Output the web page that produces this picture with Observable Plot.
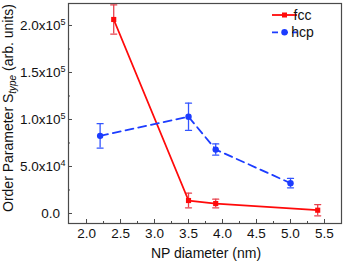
<!DOCTYPE html>
<html><head><meta charset="utf-8">
<script src="https://cdn.jsdelivr.net/npm/d3@7"></script>
<script src="https://cdn.jsdelivr.net/npm/@observablehq/plot@0.6"></script>
<style>body{margin:0;background:#fff} svg{font-family:"Liberation Sans",Arial,sans-serif}</style>
</head><body><div id="chart"></div>
<script>
const fccDiameter = [2.4, 3.5, 3.9, 5.4];
const fccValue = [206400, 13800, 10600, 3500];
const fccError = [15500, 7800, 4600, 6000];
const hcpDiameter = [2.2, 3.5, 3.9, 5.0];
const hcpValue = [82600, 102900, 68000, 32300];
const hcpError = [13000, 14500, 6000, 5000];
const xTicks = [2.0, 2.5, 3.0, 3.5, 4.0, 4.5, 5.0, 5.5];
const xMinorTicks = [2.25, 2.75, 3.25, 3.75, 4.25, 4.75, 5.25];
const yTicks = [0, 50000, 100000, 150000, 200000];
const yTickMantissa = ["0.0", "5.0x10", "1.0x10", "1.5x10", "2.0x10"];
const yTickExponent = ["", "4", "5", "5", "5"];
const yMinorTicks = [25000, 75000, 125000, 175000];
const seriesNames = ["fcc", "hcp"];
const xLabel = "NP diameter (nm)";

const W = 346, H = 263, mL = 68, mR = 5, mT = 3, mB = 40;
const pw = W - mL - mR, ph = H - mT - mB;
const red = "#ff0a0a", redErr = "#e8404c", blue = "#1c3cff", blueErr = "#3355ff", frameCol = "#4a4a4a";

const fcc = fccDiameter.map((x, i) => ({x, y: fccValue[i], lo: fccValue[i] - fccError[i], hi: fccValue[i] + fccError[i]}));
const hcp = hcpDiameter.map((x, i) => ({x, y: hcpValue[i], lo: hcpValue[i] - hcpError[i], hi: hcpValue[i] + hcpError[i]}));

const capShape = {draw(ctx, l) { ctx.moveTo(0, 0); ctx.lineTo(0, -l); }};
const caps = (data, key, stroke) => Plot.vector(data, {x: "x", y: key, length: 6, rotate: 90, anchor: "middle", shape: capShape, stroke, strokeWidth: 1.3});

const chart = Plot.plot({
  width: W, height: H,
  marginLeft: mL, marginRight: mR, marginTop: mT, marginBottom: mB,
  style: {fontSize: "13.5px", fontFamily: "'Liberation Sans', Arial, sans-serif", color: "#111", background: "#fff"},
  x: {domain: [1.735, 5.75]},
  y: {domain: [-10640, 223400]},
  marks: [
    Plot.tickY(yTicks, {y: d => d, insetRight: pw - 4, stroke: frameCol}),
    Plot.tickY(yMinorTicks, {y: d => d, insetRight: pw - 2, stroke: frameCol}),
    Plot.tickX(xTicks, {x: d => d, insetTop: ph - 4, stroke: frameCol}),
    Plot.tickX(xMinorTicks, {x: d => d, insetTop: ph - 2, stroke: frameCol}),
    Plot.axisY(yTicks, {tickSize: 0, tickPadding: 8.5, tickFormat: d => yTickMantissa[yTicks.indexOf(d)], label: null, fill: "#111"}),
    Plot.axisX(xTicks, {tickSize: 0, tickPadding: 5, tickFormat: d3.format(".1f"), label: null, fill: "#111"}),
    Plot.ruleX(fcc, {x: "x", y1: "lo", y2: "hi", stroke: redErr, strokeWidth: 1.3}),
    caps(fcc, "lo", redErr), caps(fcc, "hi", redErr),
    Plot.ruleX(hcp, {x: "x", y1: "lo", y2: "hi", stroke: blueErr, strokeWidth: 1.3}),
    caps(hcp, "lo", blueErr), caps(hcp, "hi", blueErr),
    Plot.line(fcc, {x: "x", y: "y", stroke: red, strokeWidth: 1.8}),
    Plot.line(hcp, {x: "x", y: "y", stroke: blue, strokeWidth: 1.8, strokeDasharray: "8,5"}),
    Plot.dot(fcc, {x: "x", y: "y", symbol: "square", r: 2.9, fill: red}),
    Plot.dot(hcp, {x: "x", y: "y", symbol: "circle", r: 3.2, fill: blue}),
    Plot.frame({stroke: frameCol, strokeWidth: 1.2})
  ]
});
document.getElementById("chart").appendChild(chart);

const svg = d3.select(chart);
// superscript exponents on y tick labels (mantissas stay right-aligned)
svg.selectAll('g[aria-label="y-axis tick label"] text').each(function() {
  const t = d3.select(this);
  const i = yTickMantissa.indexOf(t.text());
  if (i >= 0 && yTickExponent[i]) {
    t.text(yTickMantissa[i]).attr("dx", 5.5);
    t.append("tspan").attr("font-size", 9).attr("dy", -5).text(yTickExponent[i]);
  }
});
// y-axis title with italic subscript
const yt = svg.append("text")
  .attr("transform", "translate(13,108) rotate(-90)")
  .attr("text-anchor", "middle").attr("font-size", 14).attr("fill", "#111");
yt.append("tspan").text("Order Parameter S");
yt.append("tspan").attr("font-style", "italic").attr("font-size", 10).attr("dy", 3).text("type");
yt.append("tspan").attr("dy", -3).text(" (arb. units)");
// x-axis title
svg.append("text").attr("x", 206).attr("y", 257.5).attr("text-anchor", "middle")
  .attr("font-size", 14).attr("fill", "#111").text(xLabel);
// legend
const leg = [{name: seriesNames[0], color: red, dash: null, sym: "square", y: 15},
             {name: seriesNames[1], color: blue, dash: "6,4", sym: "circle", y: 32.3}];
leg.forEach(l => {
  svg.append("line").attr("x1", 272).attr("x2", 297).attr("y1", l.y).attr("y2", l.y)
    .attr("stroke", l.color).attr("stroke-width", 1.8).attr("stroke-dasharray", l.dash);
  if (l.sym === "square") svg.append("rect").attr("x", 282).attr("y", l.y - 2.5).attr("width", 5).attr("height", 5).attr("fill", l.color);
  else svg.append("circle").attr("cx", 284.5).attr("cy", l.y).attr("r", 3.2).attr("fill", l.color);
  svg.append("text").attr("x", 302.5).attr("y", l.y + 4.5).attr("font-size", 14).attr("fill", "#111").text(l.name);
});
</script></body></html>
